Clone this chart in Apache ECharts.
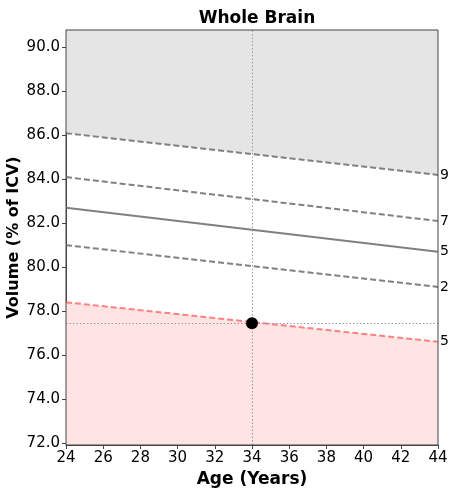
<!DOCTYPE html>
<html>
<head>
<meta charset="utf-8">
<script src="https://cdn.jsdelivr.net/npm/echarts@6/dist/echarts.min.js"></script>
<style>html,body{margin:0;padding:0;background:#fff;}#c{width:449px;height:489px;}</style>
</head>
<body>
<div id="c"></div>
<script>
const ages = [24, 44];
const p95 = [86.1, 84.2];
const p75 = [84.1, 82.1];
const p50 = [82.7, 80.7];
const p25 = [81.0, 79.1];
const p5 = [78.4, 76.6];
const subject = [34, 77.45];
const yTicks = [72, 74, 76, 78, 80, 82, 84, 86, 88, 90];
const pctLabels = ['95th', '75th', '50th', '25th', '5th'];

const F = 'DejaVu Sans';
const pair = arr => ages.map((a, i) => [a, arr[i]]);

function pctLine(arr, label, opts) {
  return Object.assign({
    type: 'line', data: pair(arr), symbol: 'none', silent: true,
    lineStyle: { color: '#808080', width: 2, type: [6, 3] },
    endLabel: { show: true, formatter: label, color: '#000', fontFamily: F, fontSize: 14, distance: 2 },
    z: 3
  }, opts || {});
}

const chart = echarts.init(document.getElementById('c'), null, { renderer: 'canvas' });
chart.setOption({
  animation: false,
  title: {
    text: 'Whole Brain', left: 252, textAlign: 'center', top: 5,
    textStyle: { fontFamily: F, fontSize: 17, fontWeight: 'bold', color: '#000' }
  },
  grid: { left: 66, right: 11, top: 30, bottom: 44, outerBoundsMode: 'none', containLabel: false, show: true, borderColor: '#444', borderWidth: 1, z: 10 },
  xAxis: {
    type: 'value', min: 24, max: 44, interval: 2,
    name: 'Age (Years)', nameLocation: 'middle', nameGap: 26,
    nameTextStyle: { fontFamily: F, fontSize: 17, fontWeight: 'bold', color: '#000' },
    axisLine: { show: true, onZero: false, lineStyle: { color: '#444' } },
    axisTick: { show: true, length: 4, lineStyle: { color: '#444' } },
    axisLabel: { fontFamily: F, fontSize: 15, color: '#000', margin: 6 },
    splitLine: { show: false }
  },
  yAxis: {
    type: 'value', min: 71.9, max: 90.8,
    name: 'Volume (% of ICV)', nameLocation: 'middle', nameGap: 44, nameMoveOverlap: false,
    nameTextStyle: { fontFamily: F, fontSize: 16, fontWeight: 'bold', color: '#000' },
    axisLine: { show: true, lineStyle: { color: '#444' } },
    axisTick: { show: true, length: 4, customValues: yTicks, lineStyle: { color: '#444' } },
    axisLabel: { fontFamily: F, fontSize: 15, color: '#000', margin: 6, customValues: yTicks, formatter: v => v.toFixed(1) },
    splitLine: { show: false }
  },
  series: [
    pctLine(p95, pctLabels[0], { areaStyle: { origin: 'end', color: '#e5e5e5', opacity: 1 } }),
    pctLine(p75, pctLabels[1]),
    pctLine(p50, pctLabels[2], { lineStyle: { color: '#808080', width: 2, type: 'solid' } }),
    pctLine(p25, pctLabels[3]),
    pctLine(p5, pctLabels[4], {
      lineStyle: { color: '#ff8080', width: 2, type: [6, 3] },
      areaStyle: { origin: 'start', color: '#ffe4e4', opacity: 1 }
    }),
    {
      type: 'scatter', data: [subject], symbolSize: 12, itemStyle: { color: '#000', opacity: 1 }, z: 6,
      markLine: {
        silent: true, symbol: 'none', label: { show: false },
        lineStyle: { color: '#999', type: [1.5, 2], width: 1 },
        data: [{ xAxis: subject[0] }, { yAxis: subject[1] }]
      }
    }
  ]
});
</script>
</body>
</html>
